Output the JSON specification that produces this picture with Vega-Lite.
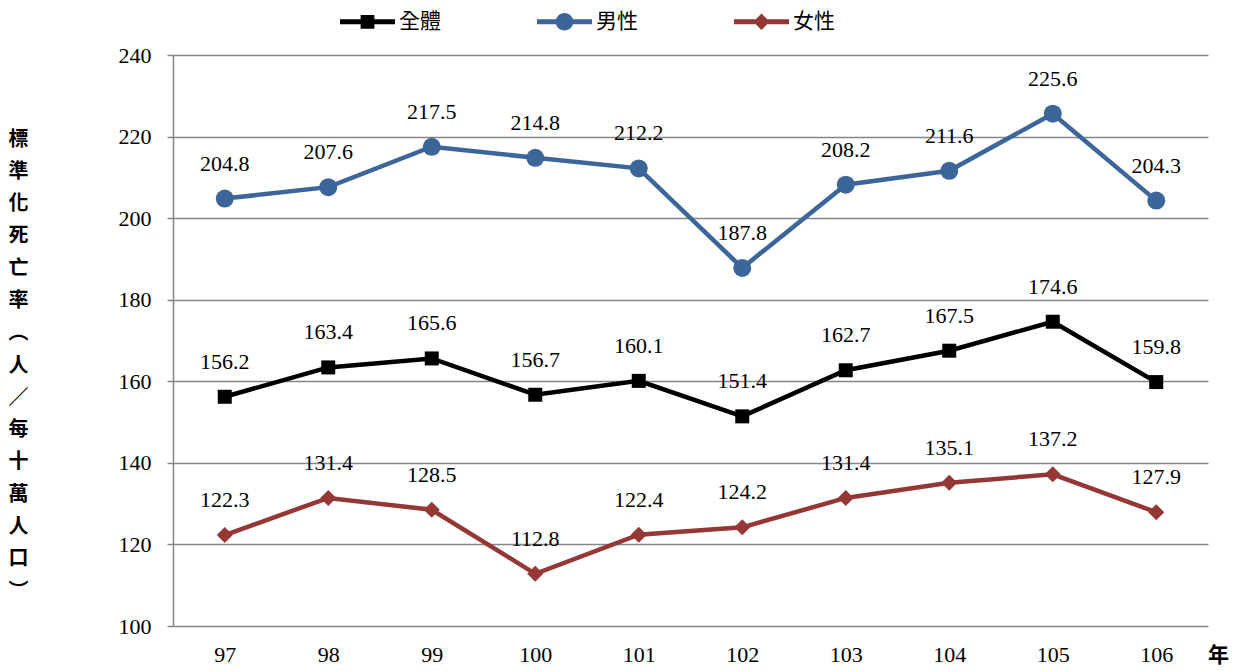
{
  "$schema": "https://vega.github.io/schema/vega-lite/v6.json",
  "autosize": {"type": "none"},
  "width": 1035,
  "height": 571,
  "padding": {"left": 173, "top": 55, "right": 35, "bottom": 45},
  "background": "white",
  "config": {"view": {"stroke": null}},
  "data": {
    "values": [
      {"year": "97", "series": "全體", "value": 156.2},
      {"year": "98", "series": "全體", "value": 163.4},
      {"year": "99", "series": "全體", "value": 165.6},
      {"year": "100", "series": "全體", "value": 156.7},
      {"year": "101", "series": "全體", "value": 160.1},
      {"year": "102", "series": "全體", "value": 151.4},
      {"year": "103", "series": "全體", "value": 162.7},
      {"year": "104", "series": "全體", "value": 167.5},
      {"year": "105", "series": "全體", "value": 174.6},
      {"year": "106", "series": "全體", "value": 159.8},
      {"year": "97", "series": "男性", "value": 204.8},
      {"year": "98", "series": "男性", "value": 207.6},
      {"year": "99", "series": "男性", "value": 217.5},
      {"year": "100", "series": "男性", "value": 214.8},
      {"year": "101", "series": "男性", "value": 212.2},
      {"year": "102", "series": "男性", "value": 187.8},
      {"year": "103", "series": "男性", "value": 208.2},
      {"year": "104", "series": "男性", "value": 211.6},
      {"year": "105", "series": "男性", "value": 225.6},
      {"year": "106", "series": "男性", "value": 204.3},
      {"year": "97", "series": "女性", "value": 122.3},
      {"year": "98", "series": "女性", "value": 131.4},
      {"year": "99", "series": "女性", "value": 128.5},
      {"year": "100", "series": "女性", "value": 112.8},
      {"year": "101", "series": "女性", "value": 122.4},
      {"year": "102", "series": "女性", "value": 124.2},
      {"year": "103", "series": "女性", "value": 131.4},
      {"year": "104", "series": "女性", "value": 135.1},
      {"year": "105", "series": "女性", "value": 137.2},
      {"year": "106", "series": "女性", "value": 127.9}
    ]
  },
  "encoding": {
    "x": {
      "field": "year", "type": "ordinal", "sort": null,
      "scale": {"type": "point", "padding": 0.5},
      "axis": {
        "title": "年", "titleFont": "Noto Sans CJK TC", "titleFontSize": 21, "titleFontWeight": "bold",
        "titleColor": "black", "titleX": 1045, "titleY": 29, "titleAlign": "center", "titleBaseline": "middle",
        "labelAngle": 0, "labelFont": "Liberation Serif", "labelFontSize": 22, "labelColor": "black",
        "labelPadding": 18, "ticks": false, "domain": false, "grid": false
      }
    },
    "y": {
      "field": "value", "type": "quantitative",
      "scale": {"domain": [100, 240], "nice": false, "zero": false},
      "axis": {
        "values": [100, 120, 140, 160, 180, 200, 220, 240],
        "title": ["標", "準", "化", "死", "亡", "率", "︵", "人", "／", "每", "十", "萬", "人", "口", "︶"],
        "titleAngle": 0, "titleFont": "Noto Sans CJK TC", "titleFontSize": 20, "titleFontWeight": "bold",
        "titleColor": "black", "titleLineHeight": 32.3, "titleX": -155, "titleY": 74,
        "titleAlign": "center", "titleBaseline": "top",
        "labelFont": "Liberation Serif", "labelFontSize": 22, "labelColor": "black", "labelPadding": 16,
        "tickSize": 6, "tickColor": "#868686", "tickWidth": 1.5,
        "domainColor": "#868686", "domainWidth": 1.5,
        "grid": true, "gridColor": "#868686", "gridWidth": 1.5
      }
    }
  },
  "layer": [
    {
      "mark": {"type": "line", "strokeWidth": 4.5},
      "encoding": {
        "color": {
          "field": "series", "type": "nominal",
          "scale": {"domain": ["全體", "男性", "女性"], "range": ["#000000", "#3c6699", "#953735"]},
          "legend": {
            "title": null, "orient": "none", "direction": "horizontal",
            "legendX": 167, "legendY": -61, "padding": 0, "columnPadding": 96,
            "labelFont": "Noto Sans CJK TC", "labelFontSize": 21, "labelColor": "black", "labelOffset": 4,
            "symbolSize": 3025, "symbolStrokeWidth": 0,
            "encode": {
              "symbols": {
                "update": {
                  "shape": {"signal": "datum.value === '全體' ? 'M-1,-0.09H1V0.09H-1Z M-0.25,-0.25H0.25V0.25H-0.25Z' : (datum.value === '男性' ? 'M-1,-0.09H1V0.09H-1Z M-0.32,0A0.32,0.32 0 1 1 0.32,0A0.32,0.32 0 1 1 -0.32,0Z' : 'M-1,-0.09H1V0.09H-1Z M0,-0.3L0.3,0L0,0.3L-0.3,0Z')"},
                  "fill": {"scale": "color", "field": "value"},
                  "strokeWidth": {"value": 0},
                  "opacity": {"value": 1}
                }
              }
            }
          }
        }
      }
    },
    {
      "transform": [{"filter": "datum.series === '全體'"}],
      "mark": {"type": "point", "filled": true, "opacity": 1, "shape": "square", "size": 196},
      "encoding": {"color": {"field": "series", "type": "nominal", "legend": null}}
    },
    {
      "transform": [{"filter": "datum.series === '男性'"}],
      "mark": {"type": "point", "filled": true, "opacity": 1, "shape": "circle", "size": 324},
      "encoding": {"color": {"field": "series", "type": "nominal", "legend": null}}
    },
    {
      "transform": [{"filter": "datum.series === '女性'"}],
      "mark": {"type": "point", "filled": true, "opacity": 1, "shape": "diamond", "size": 256},
      "encoding": {"color": {"field": "series", "type": "nominal", "legend": null}}
    },
    {
      "mark": {"type": "text", "font": "Liberation Serif", "fontSize": 22, "color": "black", "dy": -35, "baseline": "middle"},
      "encoding": {
        "text": {"field": "value", "type": "quantitative", "format": ".1f"}
      }
    }
  ]
}
